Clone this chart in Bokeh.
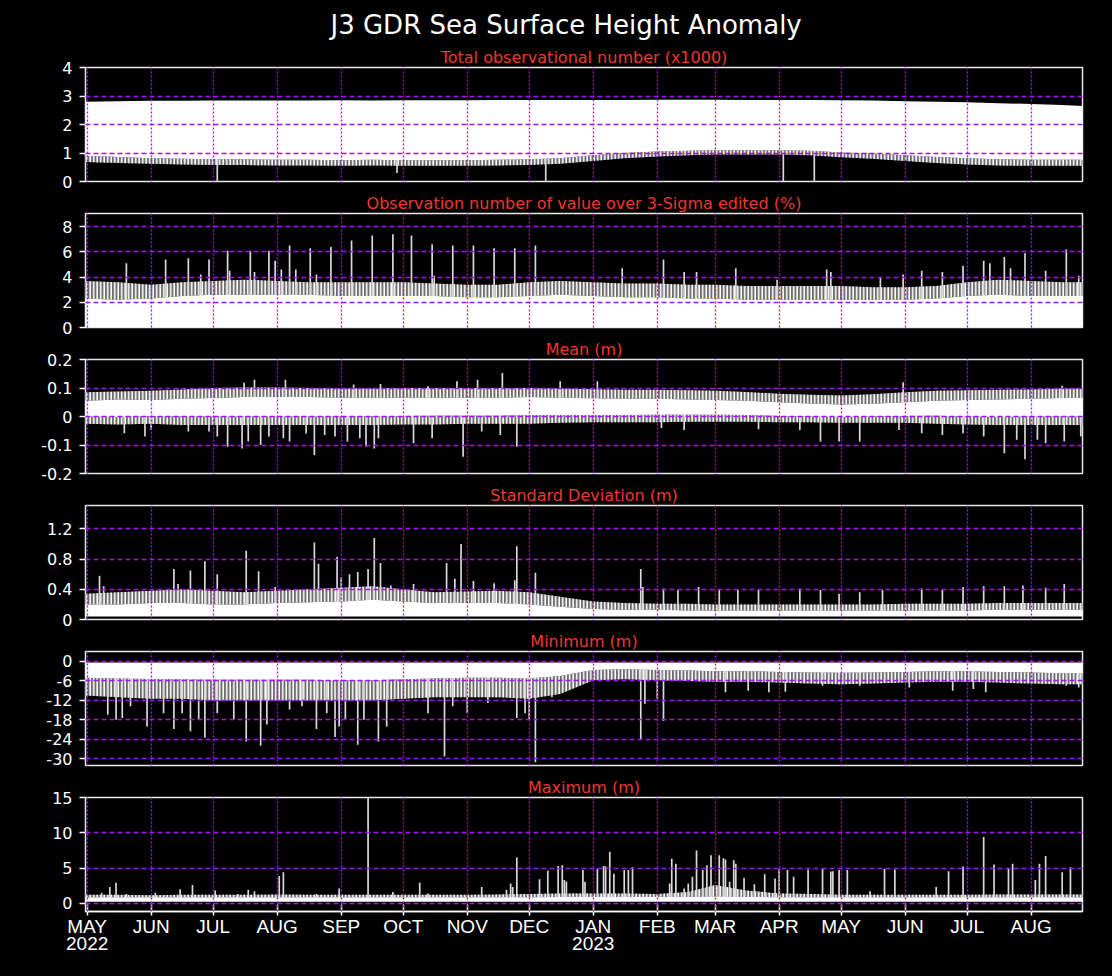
import pandas as pd
from bokeh.plotting import figure
from bokeh.layouts import column
from bokeh.models import FixedTicker, Title, Range1d
from bokeh.embed import file_html
from bokeh.resources import INLINE

# ---------------- data ----------------
MAIN_TITLE = "J3 GDR Sea Surface Height Anomaly"
SUBTITLES = ["Total observational number (x1000)",
             "Observation number of value over 3-Sigma edited (%)",
             "Mean (m)", "Standard Deviation (m)", "Minimum (m)", "Maximum (m)"]

month_ticks = ["2022-05-01", "2022-06-01", "2022-07-01", "2022-08-01", "2022-09-01", "2022-10-01",
               "2022-11-01", "2022-12-01", "2023-01-01", "2023-02-01", "2023-03-01", "2023-04-01",
               "2023-05-01", "2023-06-01", "2023-07-01", "2023-08-01"]
month_labels = ["MAY\n2022", "JUN", "JUL", "AUG", "SEP", "OCT", "NOV", "DEC", "JAN\n2023",
                "FEB", "MAR", "APR", "MAY", "JUN", "JUL", "AUG"]

env_dates = ["2022-04-30", "2022-05-16", "2022-06-01", "2022-06-16", "2022-07-01", "2022-07-16",
             "2022-08-01", "2022-08-16", "2022-09-01", "2022-09-16", "2022-10-01", "2022-10-16",
             "2022-11-01", "2022-11-16", "2022-12-01", "2022-12-16", "2023-01-01", "2023-01-16",
             "2023-02-01", "2023-02-16", "2023-03-01", "2023-03-16", "2023-04-01", "2023-04-16",
             "2023-05-01", "2023-05-16", "2023-06-01", "2023-06-16", "2023-07-01", "2023-07-16",
             "2023-08-01", "2023-08-16", "2023-08-26"]

# Panel 1: total observations (x1000)
p1_flo = [0.68, 0.65, 0.62, 0.60, 0.58, 0.58, 0.56, 0.56, 0.55, 0.56, 0.55, 0.55, 0.55, 0.56, 0.58, 0.62, 0.72,
          0.82, 0.88, 0.92, 0.95, 0.95, 0.95, 0.92, 0.85, 0.80, 0.72, 0.65, 0.60, 0.56, 0.55, 0.55, 0.55]
p1_clo = [0.90, 0.86, 0.82, 0.80, 0.78, 0.78, 0.76, 0.76, 0.75, 0.76, 0.75, 0.75, 0.75, 0.76, 0.78, 0.82, 0.92,
          1.00, 1.05, 1.08, 1.10, 1.10, 1.10, 1.08, 1.02, 0.98, 0.92, 0.86, 0.82, 0.78, 0.76, 0.76, 0.76]
p1_hi = [2.80, 2.82, 2.83, 2.83, 2.84, 2.84, 2.84, 2.84, 2.85, 2.84, 2.85, 2.85, 2.85, 2.86, 2.86, 2.86, 2.86,
         2.86, 2.87, 2.87, 2.87, 2.86, 2.86, 2.86, 2.85, 2.84, 2.82, 2.80, 2.78, 2.75, 2.72, 2.68, 2.65]
p1_spike_dates = ["2022-07-03", "2022-09-28", "2022-12-09", "2023-04-03", "2023-04-18"]
p1_spike_vals = [0.0, 0.3, 0.0, 0.0, 0.0]

# Panel 2: 3-sigma edited (%)
p2_chi = [2.3, 2.2, 2.3, 2.5, 2.6, 2.6, 2.6, 2.6, 2.5, 2.5, 2.5, 2.5, 2.4, 2.4, 2.5, 2.6, 2.5,
          2.4, 2.4, 2.3, 2.3, 2.2, 2.2, 2.2, 2.2, 2.2, 2.2, 2.3, 2.5, 2.6, 2.5, 2.5, 2.5]
p2_fhi = [3.7, 3.6, 3.4, 3.6, 3.7, 3.8, 3.7, 3.6, 3.6, 3.6, 3.6, 3.5, 3.4, 3.4, 3.6, 3.7, 3.6,
          3.5, 3.5, 3.4, 3.4, 3.3, 3.3, 3.3, 3.3, 3.2, 3.2, 3.3, 3.6, 3.8, 3.7, 3.6, 3.6]
p2_spike_dates = ["2022-05-20", "2022-06-08", "2022-06-19", "2022-06-25", "2022-06-29", "2022-07-08",
                  "2022-07-09", "2022-07-19", "2022-07-21", "2022-07-28", "2022-07-31", "2022-08-03",
                  "2022-08-07", "2022-08-10", "2022-08-17", "2022-08-20", "2022-08-27", "2022-09-06",
                  "2022-09-16", "2022-09-26", "2022-10-05", "2022-10-15", "2022-10-16", "2022-10-25",
                  "2022-11-04", "2022-11-14", "2022-11-24", "2022-12-04",
                  "2023-01-15", "2023-02-04", "2023-02-14", "2023-02-20", "2023-03-11", "2023-03-31",
                  "2023-04-24", "2023-04-26", "2023-05-20", "2023-05-31", "2023-06-09", "2023-06-19",
                  "2023-06-29", "2023-07-09", "2023-07-12", "2023-07-19", "2023-07-22", "2023-07-29",
                  "2023-08-08", "2023-08-18", "2023-08-24"]
p2_spike_vals = [5.1, 5.4, 5.5, 4.2, 5.4, 6.1, 4.5, 6.1, 4.4, 6.1, 5.3, 4.6, 6.5, 4.6, 6.3, 4.2, 6.4, 6.9,
                 7.3, 7.4, 7.3, 6.6, 4.1, 6.5, 6.5, 6.3, 6.3, 6.5,
                 4.7, 5.4, 4.4, 4.4, 4.7, 3.8, 4.6, 4.4, 4.0, 4.2, 4.5, 4.4, 4.9, 5.3, 5.1, 5.6, 4.7, 5.9,
                 4.5, 6.2, 4.1]

# Panel 3: mean (m)
p3_flo = [-0.025, -0.028, -0.025, -0.03, -0.03, -0.03, -0.03, -0.03, -0.03, -0.03, -0.028, -0.028, -0.025,
          -0.025, -0.025, -0.022, -0.02, -0.02, -0.02, -0.018, -0.018, -0.018, -0.02, -0.02, -0.022, -0.022,
          -0.022, -0.025, -0.028, -0.03, -0.03, -0.03, -0.03]
p3_clo = [0.0, -0.002, 0.002, 0.0, 0.0, 0.0, 0.0, 0.0, 0.0, 0.002, 0.002, 0.003, 0.003, 0.003, 0.004, 0.005,
          0.005, 0.005, 0.006, 0.006, 0.006, 0.005, 0.002, 0.0, -0.002, 0.0, 0.002, 0.003, 0.0, -0.002, 0.0,
          0.0, 0.0]
p3_chi = [0.055, 0.06, 0.058, 0.062, 0.065, 0.068, 0.068, 0.068, 0.066, 0.066, 0.066, 0.066, 0.066, 0.066,
          0.068, 0.066, 0.064, 0.062, 0.062, 0.06, 0.058, 0.055, 0.05, 0.046, 0.042, 0.045, 0.05, 0.055,
          0.058, 0.06, 0.062, 0.065, 0.065]
p3_fhi = [0.085, 0.088, 0.09, 0.095, 0.1, 0.102, 0.102, 0.1, 0.098, 0.098, 0.1, 0.1, 0.1, 0.1, 0.1, 0.098,
          0.096, 0.094, 0.094, 0.092, 0.09, 0.086, 0.08, 0.076, 0.074, 0.078, 0.085, 0.09, 0.092, 0.094,
          0.095, 0.098, 0.098]
p3_spike_dates = ["2022-05-19", "2022-05-29", "2022-06-01", "2022-06-19", "2022-06-29", "2022-07-03",
                  "2022-07-08", "2022-07-15", "2022-07-18", "2022-07-24", "2022-07-28", "2022-08-04",
                  "2022-08-07", "2022-08-15", "2022-08-19", "2022-08-24", "2022-08-29", "2022-09-04",
                  "2022-09-10", "2022-09-13", "2022-09-17", "2022-09-19", "2022-10-06", "2022-10-15",
                  "2022-10-30", "2022-11-08", "2022-11-17", "2022-11-25",
                  "2022-07-16", "2022-07-21", "2022-08-05", "2022-09-07", "2022-09-20", "2022-10-13",
                  "2022-10-27", "2022-11-06", "2022-11-18",
                  "2023-02-03", "2023-02-14", "2023-03-22", "2023-04-11", "2023-04-21", "2023-04-30",
                  "2023-05-10", "2023-05-29", "2023-06-09", "2023-06-19", "2023-06-29", "2023-07-09",
                  "2023-07-19", "2023-07-25", "2023-07-29", "2023-08-04", "2023-08-08", "2023-08-17",
                  "2023-08-25",
                  "2022-12-16", "2023-01-03", "2023-05-31", "2023-08-16"]
p3_spike_vals = [-0.059, -0.07, -0.047, -0.053, -0.053, -0.07, -0.106, -0.112, -0.088, -0.1, -0.07, -0.076,
                 -0.088, -0.06, -0.135, -0.065, -0.07, -0.088, -0.076, -0.106, -0.112, -0.076, -0.094, -0.076,
                 -0.141, -0.053, -0.065, -0.106,
                 0.118, 0.129, 0.129, 0.112, 0.114, 0.106, 0.124, 0.129, 0.153,
                 -0.04, -0.047, -0.045, -0.047, -0.088, -0.088, -0.088, -0.047, -0.059, -0.065, -0.059, -0.07,
                 -0.129, -0.082, -0.15, -0.082, -0.094, -0.088, -0.07,
                 0.124, 0.124, 0.12, 0.108]

# Panel 4: standard deviation (m)
p4_floor = 0.04
p4_chi = [0.2, 0.2, 0.22, 0.22, 0.2, 0.2, 0.22, 0.23, 0.24, 0.26, 0.24, 0.22, 0.22, 0.22, 0.2, 0.17, 0.14,
          0.13, 0.13, 0.12, 0.12, 0.12, 0.12, 0.12, 0.12, 0.12, 0.12, 0.12, 0.12, 0.13, 0.13, 0.13, 0.13]
p4_fhi = [0.34, 0.36, 0.38, 0.4, 0.38, 0.36, 0.38, 0.4, 0.42, 0.44, 0.4, 0.36, 0.37, 0.38, 0.36, 0.3, 0.24,
          0.22, 0.21, 0.21, 0.2, 0.2, 0.2, 0.2, 0.2, 0.2, 0.21, 0.21, 0.21, 0.22, 0.22, 0.22, 0.22]
p4_spike_dates = ["2022-05-07", "2022-05-09", "2022-06-12", "2022-06-14", "2022-06-20", "2022-06-27",
                  "2022-07-03", "2022-07-17", "2022-07-23", "2022-07-31", "2022-08-19", "2022-08-21",
                  "2022-08-30", "2022-09-01", "2022-09-05", "2022-09-09", "2022-09-14", "2022-09-17",
                  "2022-09-20", "2022-09-25", "2022-10-06", "2022-10-22", "2022-10-26", "2022-10-29",
                  "2022-11-04", "2022-11-14", "2022-11-24", "2022-11-25", "2022-12-04",
                  "2023-01-24", "2023-01-25", "2023-02-04", "2023-02-11", "2023-02-21", "2023-03-03",
                  "2023-03-12", "2023-03-22", "2023-04-11", "2023-04-21", "2023-04-30", "2023-05-10",
                  "2023-05-21", "2023-06-09", "2023-06-19", "2023-06-29", "2023-07-09", "2023-07-19",
                  "2023-07-28", "2023-08-08", "2023-08-17"]
p4_spike_vals = [0.58, 0.44, 0.67, 0.47, 0.65, 0.77, 0.6, 0.91, 0.64, 0.43, 1.02, 0.74, 0.83, 0.56, 0.6,
                 0.63, 0.67, 1.08, 0.75, 0.45, 0.47, 0.75, 0.54, 1.0, 0.51, 0.48, 0.52, 0.97, 0.62,
                 0.67, 0.43, 0.41, 0.39, 0.43, 0.39, 0.39, 0.39, 0.41, 0.39, 0.34, 0.36, 0.39, 0.41, 0.39,
                 0.43, 0.44, 0.44, 0.45, 0.42, 0.47]

# Panel 5: minimum (m)
p5_top = -0.3
p5_clo = [-5.0, -5.2, -5.4, -5.5, -5.6, -5.6, -5.6, -5.6, -5.8, -5.8, -5.5, -5.2, -5.0, -5.0, -5.2, -4.5,
          -2.6, -2.4, -2.6, -2.8, -3.0, -3.0, -3.2, -3.4, -3.5, -3.4, -3.2, -3.0, -3.0, -3.2, -3.4, -3.6, -3.6]
p5_flo = [-10.5, -11.0, -11.5, -11.5, -12.0, -12.0, -12.0, -12.0, -12.0, -12.0, -11.5, -11.0, -11.0, -11.0,
          -11.5, -10.0, -5.8, -5.5, -5.8, -6.0, -6.2, -6.2, -6.5, -6.8, -7.0, -6.8, -6.5, -6.2, -6.2, -6.5,
          -6.8, -7.0, -7.0]
p5_spike_dates = ["2022-05-11", "2022-05-15", "2022-05-18", "2022-05-22", "2022-05-30", "2022-06-07",
                  "2022-06-12", "2022-06-16", "2022-06-20", "2022-06-24", "2022-06-27", "2022-07-03",
                  "2022-07-11", "2022-07-17", "2022-07-24", "2022-07-27", "2022-08-07", "2022-08-13",
                  "2022-08-20", "2022-08-25", "2022-08-29", "2022-08-31", "2022-09-03", "2022-09-09",
                  "2022-09-12", "2022-09-19", "2022-09-23", "2022-10-13", "2022-10-21", "2022-10-25",
                  "2022-11-01", "2022-11-11", "2022-11-25", "2022-11-29", "2022-12-01", "2022-12-04",
                  "2022-12-12", "2023-01-24", "2023-01-26", "2023-02-01", "2023-02-04", "2023-03-06",
                  "2023-03-17", "2023-03-27", "2023-04-04", "2023-04-22", "2023-04-30", "2023-05-10",
                  "2023-06-03", "2023-06-24", "2023-07-04", "2023-07-10", "2023-08-18", "2023-08-24"]
p5_spike_vals = [-16.4, -17.9, -17.4, -13.8, -20.0, -15.9, -20.8, -15.9, -21.5, -17.9, -23.5, -15.9,
                 -17.9, -24.6, -25.9, -19.4, -14.8, -13.8, -20.8, -15.9, -23.2, -20.0, -17.9, -25.6,
                 -17.9, -24.6, -20.0, -15.9, -29.2, -13.8, -15.9, -12.8, -17.4, -15.9, -17.9, -31.0,
                 -11.0, -24.0, -13.0, -11.5, -18.3, -9.5, -9.0, -9.5, -9.3, -7.5, -7.0, -7.5,
                 -8.0, -9.0, -8.5, -9.5, -7.5, -8.0]

# Panel 6: maximum (m)
p6_floor = 0.2
p6_chi = [0.85, 0.85, 0.85, 0.85, 0.85, 0.85, 0.85, 0.85, 0.85, 0.85, 0.85, 0.85, 0.85, 0.85, 0.85, 0.9,
          0.9, 0.9, 0.9, 0.9, 0.95, 0.9, 0.85, 0.85, 0.85, 0.85, 0.85, 0.85, 0.85, 0.85, 0.85, 0.85, 0.85]
p6_fhi = [1.2, 1.2, 1.15, 1.2, 1.2, 1.2, 1.25, 1.2, 1.2, 1.2, 1.2, 1.2, 1.2, 1.25, 1.3, 1.4, 1.4, 1.4, 1.3,
          1.6, 2.6, 1.8, 1.4, 1.3, 1.2, 1.2, 1.2, 1.2, 1.2, 1.25, 1.25, 1.25, 1.25]
p6_spike_dates = ["2022-05-08", "2022-05-12", "2022-05-15", "2022-05-20", "2022-06-03", "2022-06-15",
                  "2022-06-21", "2022-07-02", "2022-07-13", "2022-07-18", "2022-07-21", "2022-08-02",
                  "2022-08-04", "2022-08-20", "2022-08-31", "2022-09-14", "2022-09-26", "2022-10-09",
                  "2022-10-13", "2022-11-08", "2022-11-20", "2022-11-22", "2022-11-23", "2022-11-25",
                  "2022-12-06", "2022-12-10", "2022-12-15", "2022-12-17", "2022-12-18", "2022-12-19",
                  "2022-12-27", "2022-12-28", "2023-01-03", "2023-01-06", "2023-01-07", "2023-01-09",
                  "2023-01-11", "2023-01-16", "2023-01-18", "2023-01-20", "2023-02-07", "2023-02-08",
                  "2023-02-10", "2023-02-14", "2023-02-16", "2023-02-18", "2023-02-20", "2023-02-23",
                  "2023-02-25", "2023-02-27", "2023-03-03", "2023-03-05", "2023-03-06", "2023-03-08",
                  "2023-03-10", "2023-03-11", "2023-03-15", "2023-03-20", "2023-03-25", "2023-03-30",
                  "2023-04-01", "2023-04-05", "2023-04-08", "2023-04-15", "2023-04-22", "2023-04-26",
                  "2023-04-27", "2023-04-30", "2023-05-04", "2023-05-15", "2023-05-22", "2023-05-27",
                  "2023-06-16", "2023-06-22", "2023-06-29", "2023-07-09", "2023-07-14", "2023-07-21",
                  "2023-07-23", "2023-08-03", "2023-08-05", "2023-08-08", "2023-08-16", "2023-08-20"]
p6_spike_vals = [1.5, 2.3, 2.9, 1.3, 1.5, 2.0, 2.6, 1.8, 1.3, 1.9, 1.7, 3.85, 4.4, 1.3, 2.1, 15.0, 1.6,
                 2.9, 1.4, 2.3, 1.9, 2.8, 2.3, 6.5, 3.4, 4.6, 5.3, 5.4, 3.3, 3.1, 4.7, 3.05, 4.9, 5.3,
                 5.2, 7.3, 4.2, 4.7, 4.7, 5.1, 2.8, 6.3, 5.6, 2.1, 2.8, 3.75, 7.5, 4.7, 5.4, 6.8, 6.8,
                 6.4, 6.2, 3.05, 6.1, 5.6, 3.6, 2.7, 4.1, 3.5, 4.9, 4.7, 3.75, 4.8, 4.9, 4.5, 4.55, 4.7,
                 4.7, 1.7, 4.9, 4.8, 2.3, 4.55, 5.2, 9.4, 5.5, 4.9, 5.6, 3.3, 5.6, 6.7, 4.4, 5.1]

# y axes
y_ranges = [(0, 4), (0, 9.05), (-0.2, 0.2), (0, 1.51), (-32.0, 3.07), (-1.17, 15)]
y_ticks = [[0, 1, 2, 3, 4], [0, 2, 4, 6, 8], [-0.2, -0.1, 0, 0.1, 0.2], [0, 0.4, 0.8, 1.2],
           [-30, -24, -18, -12, -6, 0], [0, 5, 10, 15]]
y_tick_labels = [["0", "1", "2", "3", "4"], ["0", "2", "4", "6", "8"], ["-0.2", "-0.1", "0", "0.1", "0.2"],
                 ["0", "0.4", "0.8", "1.2"], ["-30", "-24", "-18", "-12", "-6", "0"], ["0", "5", "10", "15"]]

# ---------------- styling ----------------
PURPLE = "#a412ee"
RED = "#f0362e"
SPIKE = "#d8d8d8"
FRINGE_BG = "#6e6e6e"
LEFT = 85        # frame left edge on the page
TOP1 = 67        # first frame top on the page
GAP_TOP = 22
GAP_BOTTOM = 10


def ms(d):
    return pd.Timestamp(d).value // 10**6


tick_ms = [ms(d) for d in month_ticks]
env_x = pd.to_datetime(env_dates)
x_range = Range1d(start=ms("2022-04-30 05:00"), end=ms("2023-08-25 20:00"))


def style_title(t, size, color, align="center"):
    t.align = align
    t.text_color = color
    t.text_font = "DejaVu Sans"
    t.text_font_size = size
    t.text_font_style = "normal"


def make_panel(i, top, bottom, show_x=False):
    p = figure(frame_width=997, frame_height=114, x_axis_type="datetime", x_range=x_range,
               y_range=Range1d(*y_ranges[i]), output_backend="svg", toolbar_location=None,
               x_axis_location="below" if show_x else None,
               min_border_left=LEFT, min_border_right=20, min_border_top=top, min_border_bottom=bottom,
               background_fill_color="black", border_fill_color="black",
               outline_line_color="#e8e8e8", outline_line_width=1.5)
    if i == 0:
        p.title.text = MAIN_TITLE
        style_title(p.title, "26px", "white", align="left")
        p.title.standoff = 12
        p.title.offset = 245
        sub = Title(text=SUBTITLES[0], standoff=1)
        style_title(sub, "16px", RED)
        p.add_layout(sub, "above")
    else:
        p.title.text = SUBTITLES[i]
        style_title(p.title, "16px", RED)
        p.title.standoff = 1
    # grids
    p.xgrid.ticker = FixedTicker(ticks=tick_ms)
    p.xgrid.grid_line_color = PURPLE
    p.xgrid.grid_line_dash = "2 2"
    p.xgrid.grid_line_width = 1.3
    p.ygrid.ticker = FixedTicker(ticks=y_ticks[i])
    p.ygrid.grid_line_color = PURPLE
    p.ygrid.grid_line_dash = "5 3"
    p.ygrid.grid_line_width = 1.3
    p.xgrid.level = "overlay"
    p.ygrid.level = "overlay"
    # y axis
    ya = p.yaxis[0]
    ya.ticker = FixedTicker(ticks=y_ticks[i])
    ya.major_label_overrides = {t: l for t, l in zip(y_ticks[i], y_tick_labels[i])}
    ya.major_label_text_color = "white"
    ya.major_label_text_font = "DejaVu Sans"
    ya.major_label_text_font_size = "16px"
    ya.axis_line_color = None
    ya.major_tick_line_color = "white"
    ya.major_tick_line_width = 1.5
    ya.major_tick_out = 6
    ya.major_tick_in = 0
    ya.minor_tick_line_color = None
    ya.major_label_standoff = 7
    if show_x:
        xa = p.xaxis[0]
        xa.ticker = FixedTicker(ticks=tick_ms)
        xa.major_label_overrides = {t: l for t, l in zip(tick_ms, month_labels)}
        xa.major_label_text_color = "white"
        xa.major_label_text_font = "Liberation Sans"
        xa.major_label_text_font_size = "19px"
        xa.major_label_text_line_height = 0.85
        xa.axis_line_color = "white"
        xa.axis_line_width = 1.5
        xa.major_tick_line_color = "white"
        xa.major_tick_line_width = 1.5
        xa.major_tick_in = 7
        xa.major_tick_out = 4
        xa.minor_tick_line_color = None
        xa.major_label_standoff = 0
    return p


def fringe(p, lo, hi):
    p.varea(x=env_x, y1=lo, y2=hi, fill_color=FRINGE_BG, hatch_pattern="|",
            hatch_color="#ffffff", hatch_scale=3.5, hatch_weight=1.6)


def core(p, lo, hi):
    p.varea(x=env_x, y1=lo, y2=hi, fill_color="white")


def spikes(p, dates, vals, base):
    d = pd.to_datetime(dates)
    p.segment(x0=d, y0=base, x1=d, y1=vals, line_color=SPIKE, line_width=1.7)


panels = []
# 1
p = make_panel(0, TOP1, GAP_BOTTOM)
fringe(p, p1_flo, p1_clo)
spikes(p, p1_spike_dates, p1_spike_vals, 1.5)
core(p, p1_clo, p1_hi)
panels.append(p)
# 2
p = make_panel(1, GAP_TOP, GAP_BOTTOM)
fringe(p, p2_chi, p2_fhi)
spikes(p, p2_spike_dates, p2_spike_vals, 1.5)
core(p, 0, p2_chi)
panels.append(p)
# 3
p = make_panel(2, GAP_TOP, GAP_BOTTOM)
fringe(p, p3_flo, p3_clo)
fringe(p, p3_chi, p3_fhi)
spikes(p, p3_spike_dates, p3_spike_vals, 0.03)
core(p, p3_clo, p3_chi)
panels.append(p)
# 4
p = make_panel(3, GAP_TOP, GAP_BOTTOM)
fringe(p, p4_chi, p4_fhi)
spikes(p, p4_spike_dates, p4_spike_vals, 0.1)
core(p, p4_floor, p4_chi)
panels.append(p)
# 5
p = make_panel(4, GAP_TOP, GAP_BOTTOM)
fringe(p, p5_flo, p5_clo)
spikes(p, p5_spike_dates, p5_spike_vals, -2.0)
core(p, p5_clo, p5_top)
panels.append(p)
# 6
p = make_panel(5, GAP_TOP, 50, show_x=True)
fringe(p, p6_chi, p6_fhi)
spikes(p, p6_spike_dates, p6_spike_vals, 0.5)
core(p, p6_floor, p6_chi)
panels.append(p)

layout = column(*panels, spacing=0)
layout.styles = {"background-color": "black"}
html = file_html(layout, INLINE, title="J3 GDR Sea Surface Height Anomaly")
html = html.replace("<body>", "<body style=\"background-color:black;\">")
open("out.html", "w").write(html)
